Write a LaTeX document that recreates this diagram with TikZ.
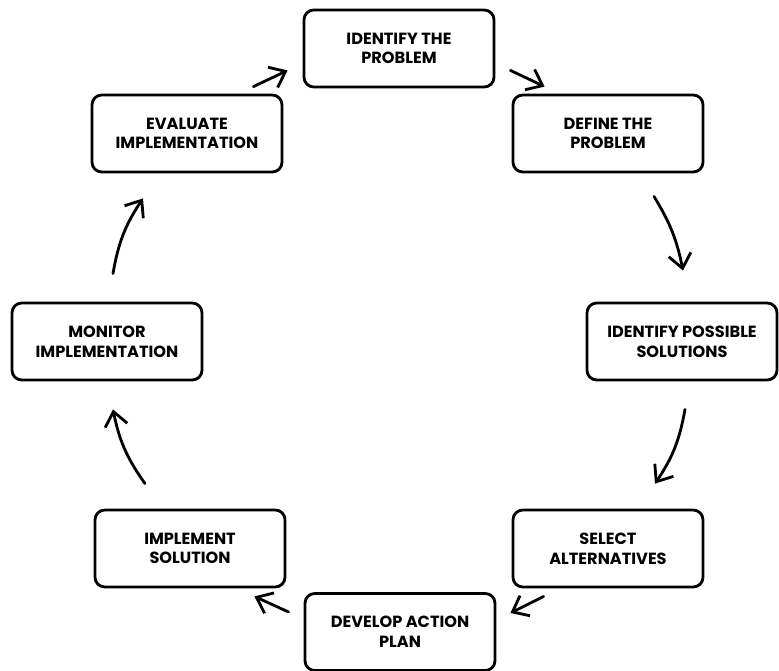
\documentclass[tikz,border=0pt]{standalone}
\usepackage{fontspec}
\setmainfont{Poppins}
\usetikzlibrary{arrows.meta}
\tikzset{every picture/.style={line width=2pt}}
\tikzset{phase/.style={draw, rounded corners=7pt, align=center, minimum width=4.75cm, minimum height=1.925cm, font=\bfseries\fontsize{11.5}{14}\selectfont},
         cyc/.style={-{Straight Barb[length=10pt,width=16pt]}, line cap=round}}

\begin{document}
\begin{tikzpicture}[x=0.025cm,y=-0.025cm]
          \useasboundingbox (0,0) rectangle (779,671);
          \node[phase] (id)  at (399,48.5)  {IDENTIFY THE\\PROBLEM};
          \node[phase] (def) at (608,133.5) {DEFINE THE\\PROBLEM};
          \node[phase] (pos) at (682,341.5) {IDENTIFY POSSIBLE\\SOLUTIONS};
          \node[phase] (sel) at (608,548.5) {SELECT\\ALTERNATIVES};
          \node[phase] (dev) at (400,632)   {DEVELOP ACTION\\PLAN};
          \node[phase] (imp) at (190,548.5) {IMPLEMENT\\SOLUTION};
          \node[phase] (mon) at (107,341.5) {MONITOR\\IMPLEMENTATION};
          \node[phase] (ev)  at (187,133.5) {EVALUATE\\IMPLEMENTATION};
          \draw[cyc] ([shift={(-30,-7)}]ev.north east) -- ([shift={(-15,-18)}]id.south west);
          \draw[cyc] ([shift={(15,-18)}]id.south east) -- ([shift={(33,-7)}]def.north west);
          \draw[cyc] ([shift={(46,23)}]def.south) to[bend left=10] ([shift={(1,-31)}]pos.north);
          \draw[cyc] ([shift={(3,28)}]pos.south) to[bend left=12] ([shift={(47,-25)}]sel.north);
          \draw[cyc] ([shift={(32,8)}]sel.south west) -- ([shift={(14,-19)}]dev.east);
          \draw[cyc] ([shift={(-15,-20)}]dev.west) -- ([shift={(-32,8)}]imp.south east);
          \draw[cyc] ([shift={(-45,-25)}]imp.north) to[bend left=12] ([shift={(6,28)}]mon.south);
          \draw[cyc] ([shift={(6,-28)}]mon.north) to[bend left=12] ([shift={(-44,25)}]ev.south);
        \end{tikzpicture}
\end{document}
